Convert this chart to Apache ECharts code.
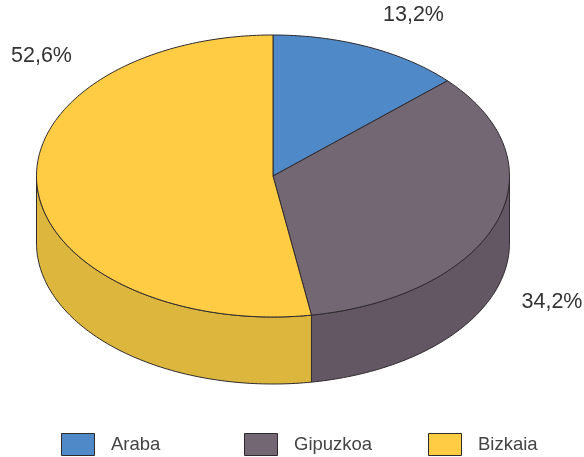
<!DOCTYPE html>
<html>
<head>
<meta charset="utf-8">
<style>
  html, body { margin: 0; padding: 0; background: #fff; }
  #main { width: 584px; height: 457px; }
</style>
</head>
<body>
<div id="main"></div>
<script src="https://cdn.jsdelivr.net/npm/echarts@6/dist/echarts.min.js"></script>
<script>
var categories = ['Araba', 'Gipuzkoa', 'Bizkaia'];
var shares = [13.2, 34.2, 52.6];
var topColors = ['#4f89c8', '#736773', '#ffcc44'];
var sideColors = ['#44759f', '#625762', '#ddb63d'];
var labelSpots = [[413.5, 15.5], [552, 302.5], [41.5, 56.5]];
var legendLefts = [61, 244, 428];

// the pie is an ellipse plus a rim below it
var cx = 273, cy = 176, rx = 236.5, ry = 141, depth = 67;
var edge = '#2e2a2e';
var total = shares.reduce(function (a, b) { return a + b; }, 0);

function rimPoint(deg, drop) {
  var a = deg * Math.PI / 180;
  return [cx + rx * Math.sin(a), cy - ry * Math.cos(a) + drop];
}

function arcPoints(from, to, drop) {
  var pts = [];
  var steps = Math.max(2, Math.ceil(Math.abs(to - from)));
  for (var i = 0; i <= steps; i++) {
    pts.push(rimPoint(from + (to - from) * i / steps, drop));
  }
  return pts;
}

function startAngle(index) {
  var sum = 0;
  for (var i = 0; i < index; i++) sum += shares[i];
  return sum / total * 360;
}

function renderSlice(index, params, api) {
  var from = startAngle(index);
  var to = from + api.value(0) / total * 360;
  var children = [];

  // only the front half of the rim can be seen
  var sideFrom = Math.max(from, 90);
  var sideTo = Math.min(to, 270);
  if (sideTo > sideFrom) {
    children.push({
      type: 'polygon',
      z2: 1,
      shape: { points: arcPoints(sideFrom, sideTo, 0).concat(arcPoints(sideTo, sideFrom, depth)) },
      style: { fill: sideColors[index], stroke: edge, lineWidth: 1, lineJoin: 'round' }
    });
  }

  children.push({
    type: 'polygon',
    z2: 2,
    shape: { points: [[cx, cy]].concat(arcPoints(from, to, 0)) },
    style: { fill: topColors[index], stroke: edge, lineWidth: 1, lineJoin: 'round' }
  });

  children.push({
    type: 'text',
    z2: 3,
    style: {
      x: labelSpots[index][0],
      y: labelSpots[index][1],
      text: api.value(0).toFixed(1).replace('.', ',') + '%',
      fill: '#333',
      font: '21.5px "Liberation Sans"',
      align: 'center',
      verticalAlign: 'middle'
    }
  });

  return { type: 'group', children: children };
}

var myChart = echarts.init(document.getElementById('main'));
myChart.setOption({
  animation: false,
  backgroundColor: '#fff',
  legend: categories.map(function (name, i) {
    return {
      data: [name],
      left: legendLefts[i],
      top: 433,
      padding: 0,
      itemWidth: 33,
      itemHeight: 22,
      itemGap: 0,
      selectedMode: false,
      icon: 'rect',
      itemStyle: { borderColor: edge, borderWidth: 1 },
      textStyle: { color: '#444', fontSize: 18.5, fontFamily: 'Liberation Sans', padding: [0, 0, 0, 11.5] }
    };
  }),
  series: categories.map(function (name, i) {
    return {
      type: 'custom',
      name: name,
      coordinateSystem: 'none',
      itemStyle: { color: topColors[i] },
      data: [[shares[i]]],
      renderItem: function (params, api) { return renderSlice(i, params, api); }
    };
  })
});
</script>
</body>
</html>
